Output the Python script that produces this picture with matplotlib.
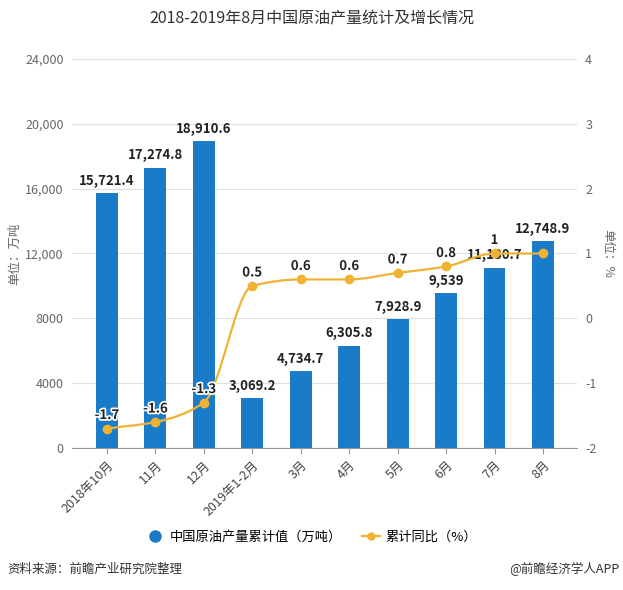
import numpy as np
import matplotlib
matplotlib.use('Agg')
import matplotlib.pyplot as plt
from matplotlib.path import Path
from matplotlib.patches import PathPatch
from matplotlib.lines import Line2D
import matplotlib.patheffects as pe

plt.rcParams['font.family'] = ['Noto Sans CJK SC', 'DejaVu Sans']
plt.rcParams['axes.unicode_minus'] = False

# data
months = ['2018年10月', '11月', '12月', '2019年1-2月', '3月', '4月', '5月', '6月', '7月', '8月']
output = [15721.4, 17274.8, 18910.6, 3069.2, 4734.7, 6305.8, 7928.9, 9539, 11130.7, 12748.9]
growth = [-1.7, -1.6, -1.3, 0.5, 0.6, 0.6, 0.7, 0.8, 1, 1]
bar_labels = ['15,721.4', '17,274.8', '18,910.6', '3,069.2', '4,734.7', '6,305.8',
              '7,928.9', '9,539', '11,130.7', '12,748.9']
# last label is hidden in the original (overlaps the bar label)
growth_labels = ['-1.7', '-1.6', '-1.3', '0.5', '0.6', '0.6', '0.7', '0.8', '1', '']

blue = '#1a7bc9'
orange = '#f0b232'
grey = '#666666'

fig = plt.figure(figsize=(6.23, 5.9), dpi=100)
ax = fig.add_axes([0.1156, 0.2407, 0.8104, 0.6593])
x = np.arange(len(months))

ax.bar(x, output, width=0.45, color=blue, zorder=2)
ax.set_ylim(0, 24000)
ax.set_yticks([0, 4000, 8000, 12000, 16000, 20000, 24000])
ax.set_yticklabels(['0', '4000', '8000', '12,000', '16,000', '20,000', '24,000'])
ax.set_xlim(-0.72, 9.7)
ax.set_xticks(x)
ax.set_xticklabels(months, rotation=45, ha='right', rotation_mode='anchor')
ax.grid(axis='y', color='#e0e0e0', linewidth=0.9, zorder=0)
for s in ['top', 'right', 'left']:
    ax.spines[s].set_visible(False)
ax.spines['bottom'].set_color('#999999')
ax.tick_params(axis='y', length=0, labelsize=9, colors=grey, pad=6)
ax.tick_params(axis='x', length=4, color='#999999', labelsize=9, colors='#444444')
ax.set_ylabel('单位：万吨', fontsize=9, color=grey)
ax.yaxis.set_label_coords(-0.1, 0.5)

for xi, v, t in zip(x, output, bar_labels):
    ax.text(xi, v + 350, t, ha='center', va='bottom', fontsize=9.5,
            fontweight='bold', color='#222222', zorder=5)

ax2 = ax.twinx()
ax2.set_ylim(-2, 4)
ax2.set_yticks([-2, -1, 0, 1, 2, 3, 4])
for s in ['top', 'right', 'left', 'bottom']:
    ax2.spines[s].set_visible(False)
ax2.tick_params(axis='y', length=0, labelsize=9, colors=grey, pad=6)
ax2.set_ylabel('单位：%', fontsize=9, color=grey, rotation=270, va='center')
ax2.yaxis.set_label_coords(1.062, 0.5)

# monotone smooth curve through the points (bezier segments)
xs = x.astype(float)
ys = np.array(growth, dtype=float)
d = np.diff(ys) / np.diff(xs)
m = np.zeros_like(ys)
m[0], m[-1] = d[0], d[-1]
for i in range(1, len(ys) - 1):
    if d[i - 1] * d[i] <= 0:
        m[i] = 0
    else:
        m[i] = 2 / (1 / d[i - 1] + 1 / d[i])
verts = [(xs[0], ys[0])]
codes = [Path.MOVETO]
for i in range(len(xs) - 1):
    h = xs[i + 1] - xs[i]
    verts += [(xs[i] + h / 3, ys[i] + m[i] * h / 3),
              (xs[i + 1] - h / 3, ys[i + 1] - m[i + 1] * h / 3),
              (xs[i + 1], ys[i + 1])]
    codes += [Path.CURVE4] * 3
ax2.add_patch(PathPatch(Path(verts, codes), facecolor='none', edgecolor=orange,
                        linewidth=1.6, zorder=3))
ax2.plot(x, growth, 'o', color=orange, markersize=6, zorder=4)
for xi, v, t in zip(x, growth, growth_labels):
    ax2.text(xi, v + 0.1, t, ha='center', va='bottom', fontsize=9.5,
             fontweight='bold', color='#222222', zorder=6,
             path_effects=[pe.withStroke(linewidth=2.5, foreground='white')])

fig.text(0.5, 0.968, '2018-2019年8月中国原油产量统计及增长情况', ha='center',
         va='center', fontsize=11.5, color='#333333')

handles = [Line2D([], [], marker='o', linestyle='none', color=blue, markersize=8),
           Line2D([], [], marker='o', color=orange, markersize=5, linewidth=1.6)]
fig.legend(handles, ['中国原油产量累计值（万吨）', '累计同比（%）'], loc='center',
           bbox_to_anchor=(0.5, 0.09), ncol=2, frameon=False, fontsize=9.5,
           handlelength=1.4, columnspacing=1.5, handletextpad=0.4)

fig.text(0.012, 0.035, '资料来源：前瞻产业研究院整理', ha='left', va='center',
         fontsize=9, style='italic', color='#333333')
fig.text(0.995, 0.035, '@前瞻经济学人APP', ha='right', va='center',
         fontsize=9, color='#333333')

fig.savefig('out.png', dpi=100)
